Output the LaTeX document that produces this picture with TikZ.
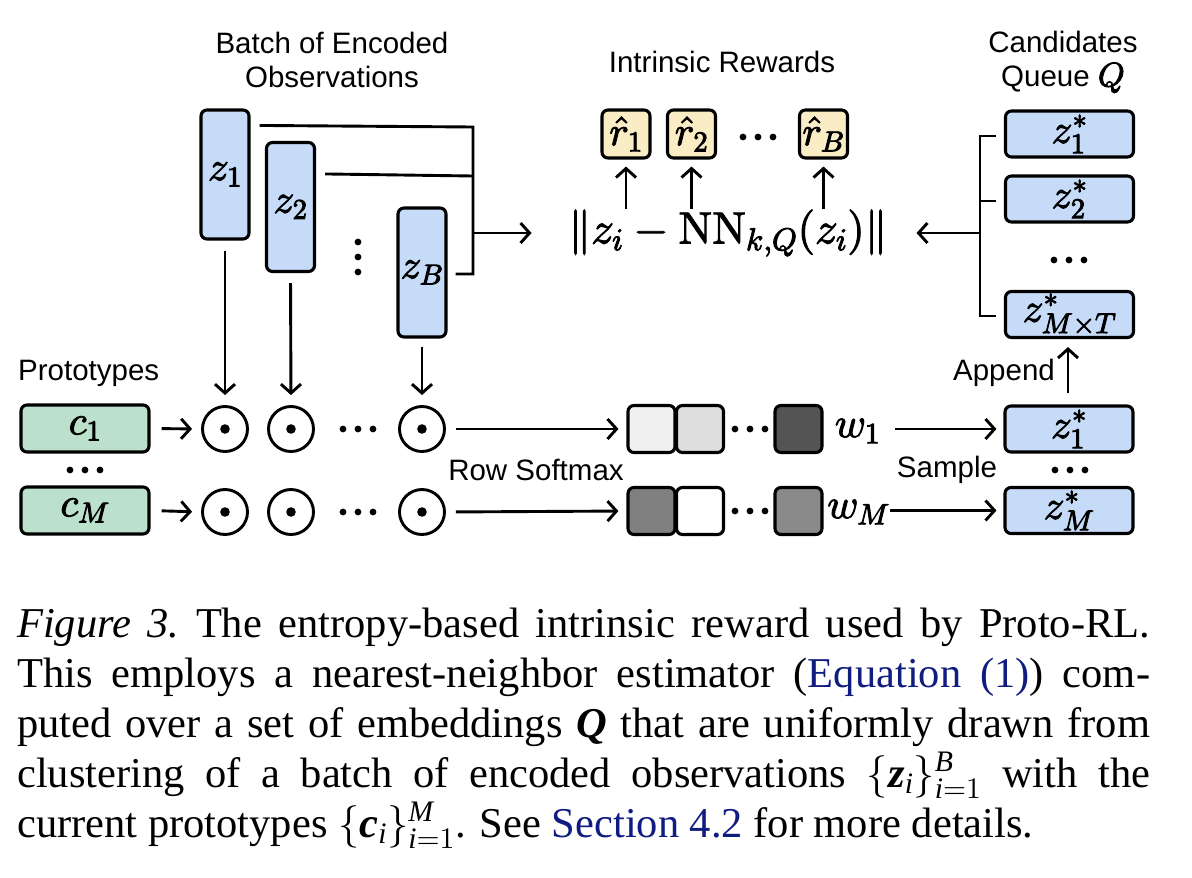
\documentclass[tikz,border=0pt]{standalone}
\usepackage{amsmath}
\usepackage[no-math]{fontspec}
\DeclareFontShape{OT1}{cmr}{m}{n}{<->cmr10}{}
\DeclareFontShape{OML}{cmm}{m}{it}{<->cmmi10}{}
\DeclareFontShape{OMS}{cmsy}{m}{n}{<->cmsy10}{}
\DeclareFontShape{OMX}{cmex}{m}{n}{<->cmex10}{}
\setmainfont{Liberation Serif}
\newfontfamily\diagfont{Liberation Sans}
\newcommand\heavy[1]{\special{pdf:literal direct 2 Tr 0.9 w}#1\special{pdf:literal direct 0 Tr}}
\usetikzlibrary{arrows.meta,calc}
\definecolor{zblue}{RGB}{198,219,247}
\definecolor{cgreen}{RGB}{187,224,204}
\definecolor{ryellow}{RGB}{250,236,196}
\definecolor{linkblue}{RGB}{16,28,128}
\tikzset{
  rbx/.style={draw, line width=3.1pt, rounded corners=6pt, inner sep=0pt, font=\fontsize{41}{48}\selectfont},
  zvec/.style={rbx, fill=zblue, minimum width=48pt, minimum height=129pt},
  qbox/.style={rbx, fill=zblue, minimum width=128pt, minimum height=46pt},
  cbox/.style={rbx, fill=cgreen, minimum width=128pt, minimum height=47pt},
  rewbox/.style={rbx, fill=ryellow, minimum width=48pt, minimum height=48pt},
  sqbox/.style={rbx, minimum width=47pt, minimum height=47pt},
  dotp/.style={circle, draw, line width=2.9pt, minimum size=45pt, inner sep=0pt},
  lbl/.style={font=\diagfont\fontsize{29.5}{34}\selectfont, align=center, inner sep=0pt},
  mth/.style={font=\fontsize{42}{48}\selectfont, inner sep=0pt},
  conn/.style={line width=2.9pt},
  arr/.style={conn, -{Straight Barb[length=9pt,width=20pt]}},
  capline/.style={anchor=base west, inner sep=0pt, font=\fontsize{42.5}{50}\selectfont},
  hdots/.pic={\foreach \i in {-1,0,1} \fill (\i*15,0) circle (3.4pt);},
  vdots/.pic={\foreach \i in {-1,0,1} \fill (0,\i*15) circle (3.4pt);},
}
\begin{document}
\begin{tikzpicture}[x=1pt,y=-1pt]
\useasboundingbox (0,0) rectangle (1192,878);

% ---- titles
\node[lbl] (tbatch) at (332,60) {Batch of Encoded\\Observations};
\node[lbl] (trew) at (722,62) {Intrinsic Rewards};
\node[lbl] (tcand) at (1063,62) {Candidates\\Queue {\fontsize{34}{34}\selectfont\heavy{$Q$}}};

% ---- encoded batch
\node[zvec] (z1) at (225,174.5) {\heavy{$z_1$}};
\node[zvec] (z2) at (290.5,207) {\heavy{$z_2$}};
\node[zvec] (zB) at (422,272.5) {\heavy{$z_B$}};
\pic at (358,257) {vdots};

\coordinate (jt) at (473,127);
\coordinate (j2) at (473,176);
\coordinate (jm) at (473,233);
\coordinate (jb) at (473,274);
\draw[conn] ($(z1.north east)+(9,17)$) -- (jt) -- (jb) -- ($(zB.east)+(8,1.5)$);
\draw[conn] ($(z2.north east)+(9,33)$) -- (j2);

% ---- formula and rewards
\node[mth, font=\fontsize{45}{50}\selectfont] (f) at (728,233) {\heavy{$\lVert z_i - \mathrm{NN}_{k,Q}(z_i)\rVert$}};
\draw[arr, shorten >=37pt] (jm) -- (f.west);

\node[rewbox] (r1) at (626,134) {\heavy{$\hat{r}_1$}};
\node[rewbox] (r2) at (691.5,134) {\heavy{$\hat{r}_2$}};
\node[rewbox] (rB) at (823.5,134) {\heavy{$\hat{r}_B$}};
\pic at (758,137) {hdots};
\foreach \r in {r1,r2,rB}
  \draw[arr, shorten >=7pt] ($(\r.south)+(0,49)$) -- (\r.south);

% ---- candidates queue
\node[qbox] (q1) at (1069.5,134) {\heavy{$z^*_1$}};
\node[qbox] (q2) at (1069.5,199) {\heavy{$z^*_2$}};
\pic at (1069,260) {hdots};
\node[qbox] (qn) at (1069.5,314.5) {\heavy{$z^*_{M\times T}$}};
\coordinate (qj) at (981,233);
\draw[conn] ($(q1.west)+(-8,2)$) -- ++(-16,0) -- ($(qn.west)+(-24,1.5)$) -- ++(16,0);
\draw[conn] ($(q2.west)+(-8,2)$) -- ++(-16,0);
\draw[arr, shorten >=29pt] (qj) -- (f.east);

% ---- prototypes rows
\node[lbl, anchor=west] (tproto) at (18,373) {Prototypes};
\node[cbox] (c1) at (85,428.5) {\heavy{$c_1$}};
\node[cbox] (cM) at (85,510.5) {\heavy{$c_M$}};
\pic at (85,470) {hdots};

\node[dotp] (p11) at (225,429) {};
\node[dotp] (p12) at (291,429) {};
\node[dotp] (p13) at (422,429) {};
\node[dotp] (p21) at (225,512) {};
\node[dotp] (p22) at (291,512) {};
\node[dotp] (p23) at (422,512) {};
\foreach \p in {p11,p12,p13,p21,p22,p23} \fill (\p) circle (4.8pt);
\pic at (358,429) {hdots};
\pic at (358,512) {hdots};

\draw[arr, shorten <=10pt, shorten >=10pt] (z1.south) -- (p11.north);
\draw[arr, shorten <=10pt, shorten >=10pt] (z2.south) -- (p12.north);
\draw[arr, shorten <=8pt, shorten >=10pt] (zB.south) -- (p13.north);
\draw[arr, shorten <=11pt, shorten >=9pt] (c1.east) -- (p11.west);
\draw[arr, shorten <=11pt, shorten >=9pt] (cM.east) -- (p21.west);

% ---- softmax squares
\node[sqbox, fill=black!6] (s11) at (651.5,429) {};
\node[sqbox, fill=black!13] (s12) at (700,429) {};
\node[sqbox, fill=black!67] (s13) at (798.5,429) {};
\node[sqbox, fill=black!50] (s21) at (651.5,511) {};
\node[sqbox, fill=white] (s22) at (700,511) {};
\node[sqbox, fill=black!46] (s23) at (798.5,511) {};
\pic at (750,429) {hdots};
\pic at (750,511) {hdots};
\draw[arr, shorten <=10pt, shorten >=8pt] (p13.east) -- (s11.west);
\draw[arr, shorten <=10pt, shorten >=8pt] (p23.east) -- (s21.west);
\node[lbl] (trow) at (536,470) {Row Softmax};

% ---- sampling
\node[mth, anchor=base] (w1) at (857.5,437) {\heavy{$w_1$}};
\node[mth, anchor=base] (wM) at (858.5,518) {\heavy{$w_M$}};
\node[qbox] (zs1) at (1069,429) {\heavy{$z^*_1$}};
\node[qbox] (zsM) at (1069,510.5) {\heavy{$z^*_M$}};
\pic at (1070,470) {hdots};
\draw[arr, shorten <=15pt, shorten >=7pt] (w1.east |- zs1.west) -- (zs1.west);
\draw[arr, shorten >=7pt] (wM.east |- zsM.west) -- (zsM.west);
\node[lbl] (tsample) at (947,470) {Sample};
\draw[arr, shorten <=11pt, shorten >=8pt] (zs1.north -| 1068,0) -- (qn.south -| 1068,0);
\node[lbl] (tappend) at (1004,373) {Append};

% ---- caption
\node[capline] (cap1) at (17,637) {\makebox[1133pt][s]{\textit{Figure 3.}\ The entropy-based intrinsic reward used by Proto-RL.}};
\node[capline] (cap2) at (17,687) {\makebox[1133pt][s]{This employs a nearest-neighbor estimator (\textcolor{linkblue}{Equation (1)}) com-}};
\node[capline] (cap3) at (17,737) {\makebox[1133pt][s]{puted over a set of embeddings \textbf{\textit{Q}} that are uniformly drawn from}};
\node[capline] (cap4) at (17,787) {\makebox[1133pt][s]{clustering of a batch of encoded observations $\{\textbf{\textit{z}}_{\textit{i}}\}_{\textit{i}=1}^{\textit{B}}$ with the}};
\node[capline] (cap5) at (17,837) {current prototypes $\{\textbf{\textit{c}}_{\textit{i}}\}_{\textit{i}=1}^{\textit{M}}$. See \textcolor{linkblue}{Section 4.2} for more details.};
\end{tikzpicture}
\end{document}
